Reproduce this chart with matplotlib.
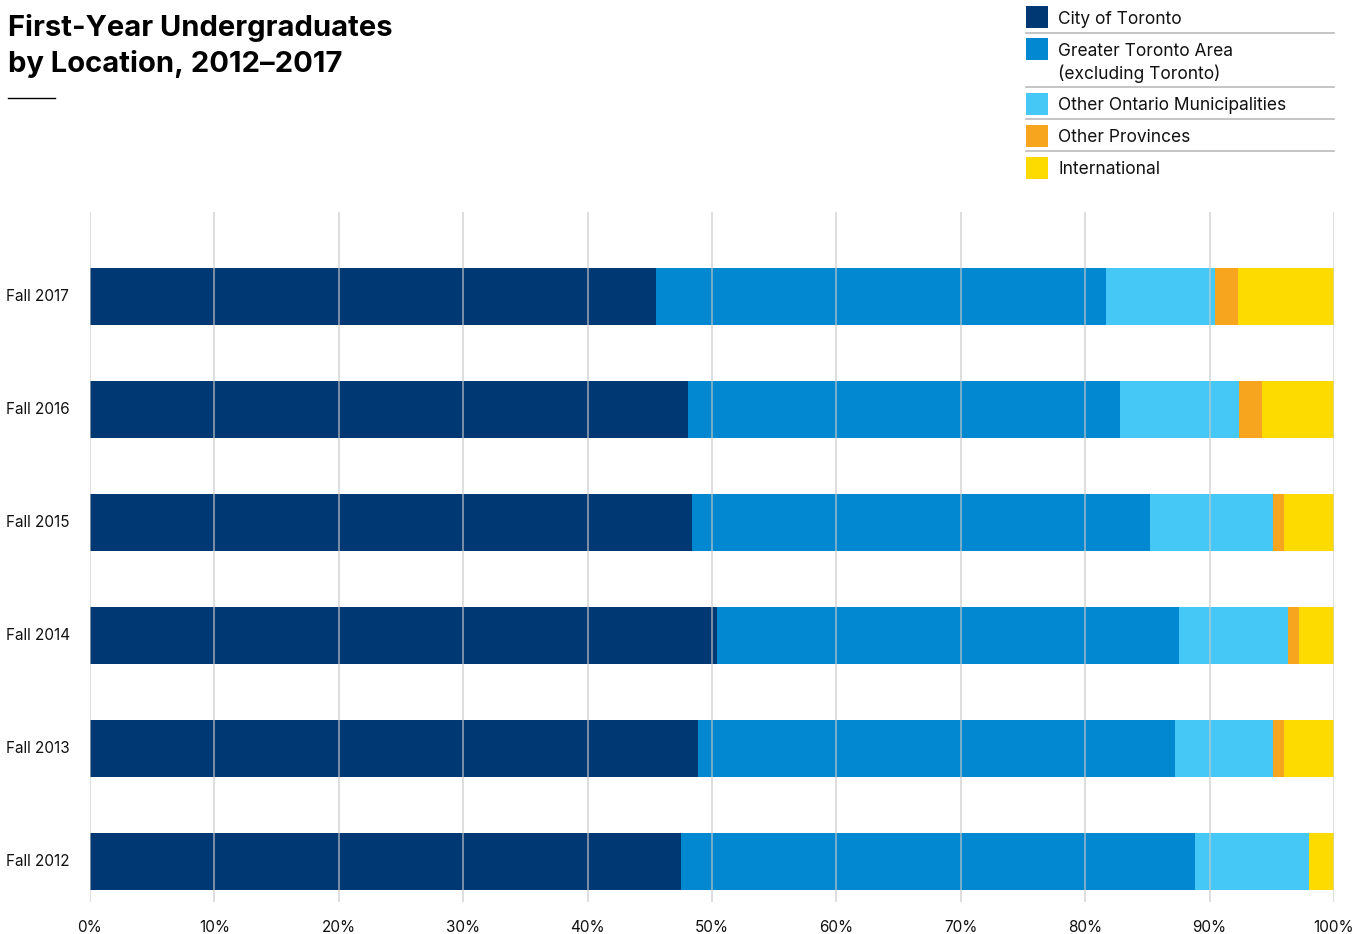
import matplotlib
matplotlib.use("Agg")
import matplotlib.pyplot as plt
import matplotlib.transforms as mtrans
from matplotlib.patches import Rectangle
from matplotlib.lines import Line2D

plt.rcParams['font.family'] = ['Inter', 'DejaVu Sans']

years = ["Fall 2012", "Fall 2013", "Fall 2014", "Fall 2015", "Fall 2016", "Fall 2017"]
series_names = ["City of Toronto", "Greater Toronto Area\n(excluding Toronto)",
                "Other Ontario Municipalities", "Other Provinces", "International"]
city = [47.5, 48.9, 50.4, 48.4, 48.1, 45.5]
gta = [41.3, 38.3, 37.1, 36.8, 34.7, 36.2]
other_ontario = [9.2, 7.9, 8.8, 9.9, 9.6, 8.7]
other_provinces = [0.0, 0.9, 0.9, 0.9, 1.8, 1.9]
international = [2.0, 4.0, 2.9, 4.0, 5.8, 7.7]
colors = ["#003873", "#0288D1", "#45C8F5", "#F7A51E", "#FEDB00"]
xticks = [0, 10, 20, 30, 40, 50, 60, 70, 80, 90, 100]
xticklabels = [f"{v}%" for v in xticks]

W, H = 1370, 934
fig = plt.figure(figsize=(W / 100, H / 100), dpi=100)
ax = fig.add_axes([90 / W, 1 - 902 / H, (1334 - 90) / W, (902 - 212) / H])

series = [city, gta, other_ontario, other_provinces, international]
ypos = list(range(len(years)))
left = [0.0] * len(years)
for vals, c in zip(series, colors):
    ax.barh(ypos, vals, left=left, height=0.504, color=c, zorder=2, linewidth=0)
    left = [l + v for l, v in zip(left, vals)]

ax.set_xlim(0, 100)
ax.set_ylim(-0.36, 5.745)
ax.set_xticks(xticks)
ax.set_xticklabels(xticklabels, fontsize=11, color="#111111")
for x in xticks:
    ax.axvline(x, color="#c8c8c8", lw=1.2, alpha=0.7, zorder=3)
ax.set_yticks(ypos)
ax.set_yticklabels([])
for spine in ax.spines.values():
    spine.set_visible(False)
ax.tick_params(axis="both", length=0)
ax.tick_params(axis="x", pad=13)

trans = mtrans.blended_transform_factory(fig.transFigure, ax.transData)
for y, lab in zip(ypos, years):
    ax.text(6 / W, y, lab, transform=trans, ha="left", va="center", fontsize=11, color="#111111")

# Title
fig.text(8 / W, 1 - 36 / H, "First-Year Undergraduates", ha="left", va="baseline",
         fontsize=21, fontweight="bold", color="#000000")
fig.text(8 / W, 1 - 72 / H, "by Location, 2012\u20132017", ha="left", va="baseline",
         fontsize=21, fontweight="bold", color="#000000")
fig.add_artist(Line2D([8 / W, 55 / W], [1 - 98 / H, 1 - 98 / H], color="black", lw=1))

# Legend
box_tops = [6, 38, 93, 125, 157]
text_y = [19, 51, 106, 138, 170]
sep_y = [33, 87, 119, 151]
for top, ty, name, c in zip(box_tops, text_y, series_names, colors):
    fig.add_artist(Rectangle((1026 / W, 1 - (top + 22) / H), 22 / W, 22 / H,
                             transform=fig.transFigure, color=c, lw=0))
    for i, ln in enumerate(name.split("\n")):
        fig.text(1058 / W, 1 - (ty + i * 23) / H, ln, ha="left", va="center",
                 fontsize=12.5, color="#111111")
for sy in sep_y:
    fig.add_artist(Line2D([1026 / W, 1334 / W], [1 - sy / H, 1 - sy / H], color="#bbbbbb", lw=1.2))

fig.savefig("out.png", dpi=100)
